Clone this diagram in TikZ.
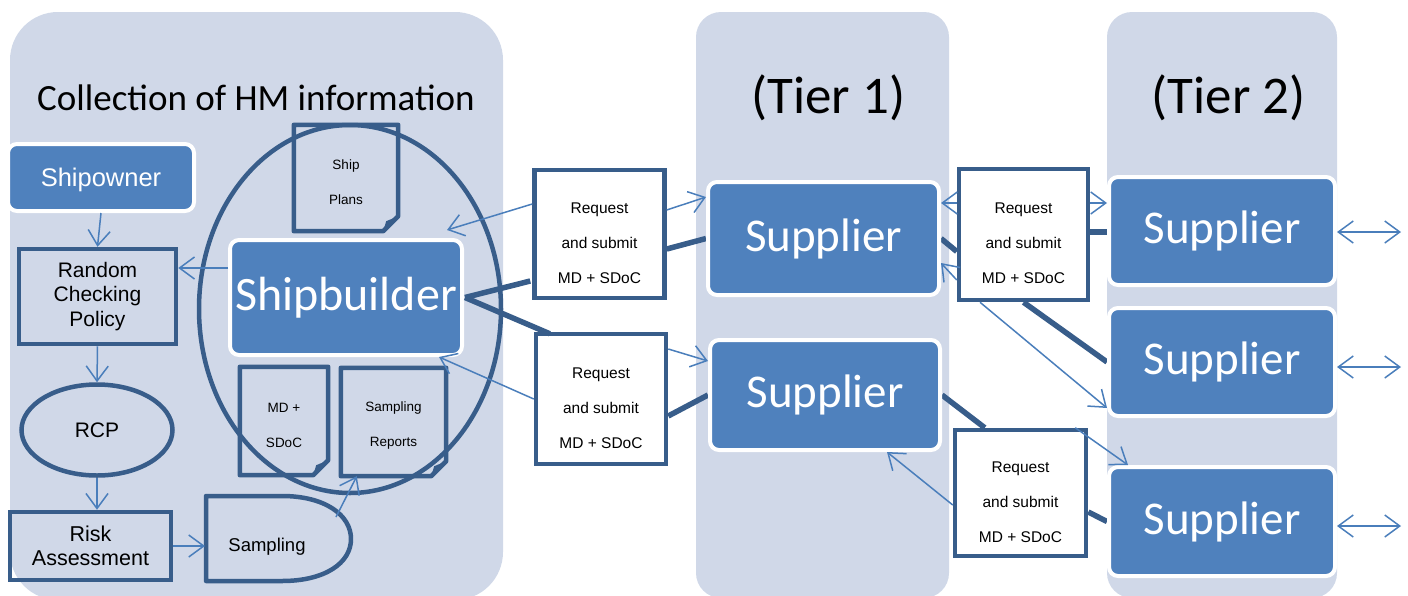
\documentclass[tikz,border=0pt]{standalone}
\usepackage{fontspec}
\setmainfont{Liberation Sans}
\newfontfamily\carlito{Carlito}
\usetikzlibrary{arrows.meta,shapes.geometric,calc}
\definecolor{panelc}{HTML}{D0D8E8}
\definecolor{nodeblue}{HTML}{4F81BD}
\definecolor{darkb}{HTML}{385D8A}
\definecolor{arrowc}{HTML}{4A7EBB}
\pgfdeclarelayer{bg}\pgfdeclarelayer{mid}\pgfsetlayers{bg,mid,main}
\newcommand\docoutline[1]{%
  \draw[darkb, line width=4.5pt, line join=round] (#1.north west) -- (#1.north east) -- ($(#1.south east)+(0,-15)$) -- ($(#1.south east)+(-15,0)$) -- (#1.south west) -- cycle;
  \fill[darkb] ($(#1.south east)+(0,-15)$) -- ($(#1.south east)+(-12,-10)$) -- ($(#1.south east)+(-15,0)$) -- cycle;}
\begin{document}
\begin{tikzpicture}[x=1pt,y=-1pt,
  bluebox/.style={rectangle, rounded corners=9pt, fill=nodeblue, draw=white, line width=4pt, text=white, inner sep=0pt},
  outbox/.style={rectangle, draw=darkb, line width=4.5pt, inner sep=0pt, align=center},
  reqbox/.style={outbox, fill=white, minimum width=130pt, minimum height=128pt,
     label={[font=\fontsize{15.5}{35}\selectfont, align=center, yshift=-9pt]center:Request\\and submit\\MD + SDoC}},
  docnode/.style={rectangle, inner sep=0pt},
  doctext/.style={font=\fontsize{13.5}{35}\selectfont, align=center, yshift=-4pt},
  thinarrow/.style={draw=arrowc, line width=1.5pt, -{Straight Barb[length=15pt,width=22pt]}},
  dblarrow/.style={draw=arrowc, line width=1.5pt, {Straight Barb[length=15pt,width=22pt]}-{Straight Barb[length=15pt,width=22pt]}},
  thickline/.style={draw=darkb, line width=5.5pt},
  suptext/.style={font=\carlito\fontsize{47}{47}\selectfont},
  titletext/.style={anchor=base, inner sep=0pt},
]
\useasboundingbox (0,0) rectangle (1408,595);
\begin{pgfonlayer}{bg}
  \fill[panelc, rounded corners=48pt] (10,12) rectangle (503,600);
  \fill[panelc, rounded corners=25pt] (696,12) rectangle (949,598);
  \fill[panelc, rounded corners=25pt] (1107,12) rectangle (1337,598);
\end{pgfonlayer}

% titles
\node[titletext, font=\carlito\fontsize{37}{37}\selectfont] (title) at (256,110) {Collection of HM information};
\node[titletext, font=\carlito\fontsize{53}{53}\selectfont] (tier1) at (828.5,113) {(Tier 1)};
\node[titletext, font=\carlito\fontsize{53}{53}\selectfont] (tier2) at (1228.5,113) {(Tier 2)};

% left column
\node[bluebox, minimum width=186pt, minimum height=67pt, font=\fontsize{25.5}{26}\selectfont, text height=18.5pt, text depth=0pt] (owner) at (101,177.5) {Shipowner};
\node[outbox, minimum width=157pt, minimum height=95pt, font=\fontsize{21}{24.5}\selectfont] (rcpbox) at (97.5,296.5) {Random\\Checking\\Policy};
\node[ellipse, draw=darkb, line width=4.5pt, minimum width=151pt, minimum height=91pt, inner sep=0pt, font=\fontsize{21}{24}\selectfont, text height=15pt, text depth=0pt] (rcp) at (97,430) {RCP};
\node[outbox, minimum width=161pt, minimum height=68pt, font=\fontsize{21.5}{24}\selectfont] (risk) at (90.5,546) {Risk\\Assessment};
\draw[darkb, line width=4.5pt, line join=round] (206,496) -- (282,496) .. controls (325,496) and (351,515) .. (351,539) .. controls (351,563) and (325,581) .. (282,581) -- (206,581) -- cycle;
\node[font=\fontsize{18.5}{20}\selectfont] (sampling) at (267,547) {Sampling};
\coordinate (sampW) at (205,546);
\coordinate (sampNE) at (336,517);

% shipbuilder group
\node[ellipse, draw=darkb, line width=4.5pt, minimum width=302pt, minimum height=368pt, inner sep=0pt] (circ) at (350,309) {};
\node[docnode, minimum width=104pt, minimum height=106pt, label={[doctext]center:Ship\\Plans}] (plans) at (346,178) {};
\node[docnode, minimum width=88pt, minimum height=108pt, label={[doctext]center:MD +\\SDoC}] (mdsdoc) at (284,421) {};
\node[docnode, minimum width=105pt, minimum height=108pt, label={[doctext]center:Sampling\\Reports}] (samprep) at (393.5,422) {};
\docoutline{plans}
\docoutline{mdsdoc}
\docoutline{samprep}
\node[bluebox, minimum width=232pt, minimum height=115pt, font=\carlito\fontsize{48}{48}\selectfont] (shipb) at (346,297.5) {Shipbuilder};

% request boxes
\node[reqbox] (req1) at (599.5,234) {};
\node[reqbox, minimum height=130pt] (req2) at (601,399) {};
\node[reqbox, minimum width=129pt, minimum height=131pt] (req3) at (1023.5,234.5) {};
\node[reqbox, minimum width=131pt, minimum height=126pt] (req4) at (1020.5,493) {};

% suppliers
\node[bluebox, suptext, minimum width=231pt, minimum height=113pt] (sup1a) at (823.5,238.5) {Supplier};
\node[bluebox, suptext, minimum width=230pt, minimum height=110pt] (sup1b) at (825,395) {Supplier};
\node[bluebox, suptext, minimum width=226pt, minimum height=108pt] (sup2a) at (1222,231) {Supplier};
\node[bluebox, suptext, minimum width=226pt, minimum height=108pt] (sup2b) at (1222,362) {Supplier};
\node[bluebox, suptext, minimum width=226pt, minimum height=109pt] (sup2c) at (1222,521.5) {Supplier};
\coordinate (o1) at (1401,232);
\coordinate (o2) at (1401,367);
\coordinate (o3) at (1401,526);

% thick lines
\coordinate (sbtip) at ([xshift=1pt]shipb.east);
\draw[thickline] (sbtip) -- ([yshift=-47pt,xshift=-2pt]req1.west);
\draw[thickline] (sbtip) -- ([xshift=16pt,yshift=-2pt]req2.north west);
\begin{pgfonlayer}{mid}
  \draw[thickline] ([yshift=-15pt]req1.east) -- (sup1a.west);
  \draw[thickline] ([yshift=-17pt]req2.east) -- (sup1b.west);
  \draw[thickline] (sup1a.east) -- ([yshift=-17pt]req3.west);
  \draw[thickline] ([yshift=2.5pt]req3.east) -- ([yshift=-1pt]sup2a.west);
  \draw[thickline] (req3.south) -- (sup2b.west);
  \draw[thickline] (sup1b.east) -- ([xshift=32pt]req4.north west);
  \draw[thickline] ([yshift=-19pt]req4.east) -- (sup2c.west);
\end{pgfonlayer}

% thin arrows
\draw[thinarrow] (owner.south) -- (rcpbox.north);
\draw[thinarrow] (rcpbox.south) -- (rcp.north);
\draw[thinarrow] (rcp.south) -- (rcp.south |- risk.north);
\draw[thinarrow] (risk.east) -- (risk.east -| sampW);
\draw[thinarrow] (sampNE) -- ([xshift=16pt]samprep.south west);
\draw[thinarrow] ([yshift=29.5pt]shipb.west) -- ([yshift=29.5pt]shipb.west -| rcpbox.east);
\draw[thinarrow] ([yshift=30pt]req1.west) -- ($(shipb.north east)+(-17,-8)$);
\draw[thinarrow] ([yshift=24pt]req1.east) -- ([yshift=41.5pt]sup1a.west);
\draw[thinarrow] (req2.west) -- ($(shipb.south east)+(-25,0)$);
\draw[thinarrow] ([yshift=50pt]req2.east) -- ([yshift=34pt]sup1b.west);
\draw[thinarrow] ([yshift=31.5pt]req3.west) -- ([yshift=31.5pt]req3.west -| sup1a.east);
\draw[thinarrow] ([yshift=31.5pt]req3.east) -- ([yshift=31.5pt]req3.east -| sup2a.west);
\draw[thinarrow] ([yshift=-45.5pt]req3.west) -- ([yshift=-24.5pt]sup1a.east);
\draw[thinarrow] ([xshift=-43.5pt]req3.south) -- ([yshift=-46pt]sup2b.west);
\draw[thinarrow] ([yshift=-12pt]req4.west) -- ([xshift=62pt]sup1b.south);
\draw[thinarrow] ([xshift=-13pt]req4.north east) -- ([xshift=21pt]sup2c.north west);
\draw[dblarrow] (sup2a.east |- o1) -- (o1);
\draw[dblarrow] (sup2b.east |- o2) -- (o2);
\draw[dblarrow] (sup2c.east |- o3) -- (o3);
\end{tikzpicture}
\end{document}
